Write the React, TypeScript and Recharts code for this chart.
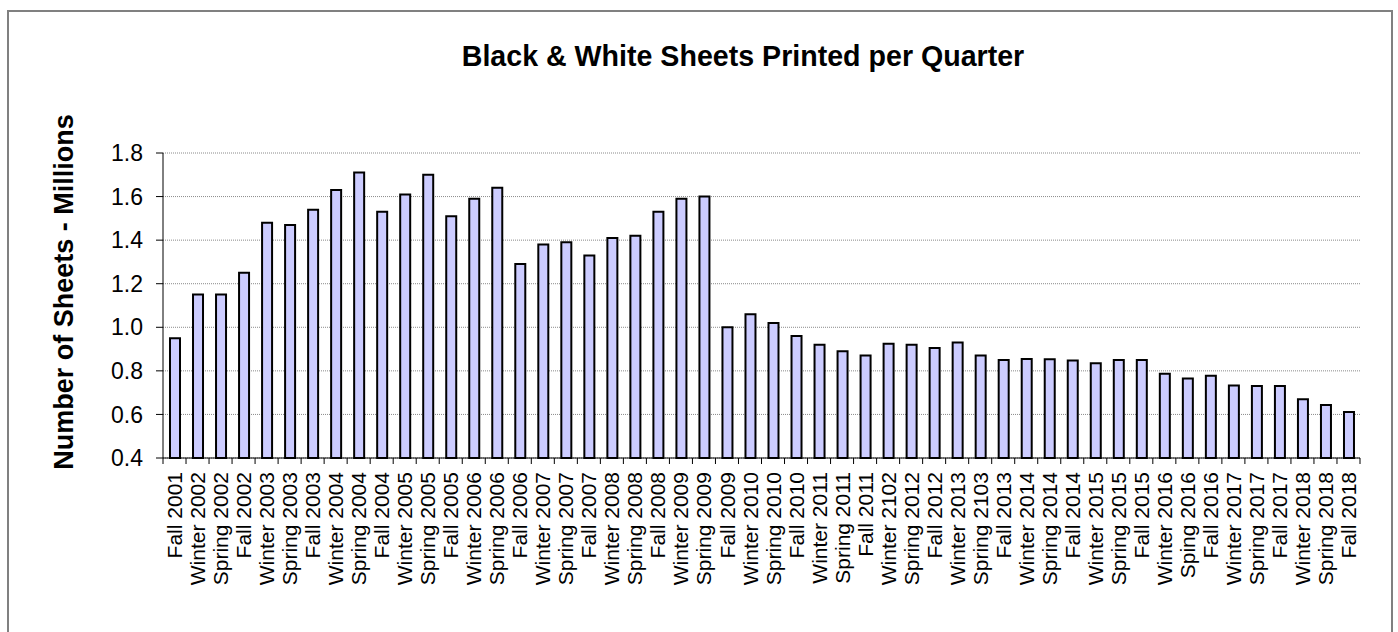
import { Bar, BarChart, CartesianGrid, XAxis, YAxis } from "recharts"

const fontFamily = '"Liberation Sans", Arial, sans-serif'

const quarters = [
  "Fall 2001", "Winter 2002", "Spring 2002", "Fall 2002",
  "Winter 2003", "Spring 2003", "Fall 2003",
  "Winter 2004", "Spring 2004", "Fall 2004",
  "Winter 2005", "Spring 2005", "Fall 2005",
  "Winter 2006", "Spring 2006", "Fall 2006",
  "Winter 2007", "Spring 2007", "Fall 2007",
  "Winter 2008", "Spring 2008", "Fall 2008",
  "Winter 2009", "Spring 2009", "Fall 2009",
  "Winter 2010", "Spring 2010", "Fall 2010",
  "Winter 2011", "Spring 2011", "Fall 2011",
  "Winter 2102", "Spring 2012", "Fall 2012",
  "Winter 2013", "Spring 2103", "Fall 2013",
  "Winter 2014", "Spring 2014", "Fall 2014",
  "Winter 2015", "Spring 2015", "Fall 2015",
  "Winter 2016", "Sping 2016", "Fall 2016",
  "Winter 2017", "Spring 2017", "Fall 2017",
  "Winter 2018", "Spring 2018", "Fall 2018",
]

// millions of sheets
const sheetsMillions = [
  0.95, 1.15, 1.15, 1.25,
  1.48, 1.47, 1.54,
  1.63, 1.71, 1.53,
  1.61, 1.70, 1.51,
  1.59, 1.64, 1.29,
  1.38, 1.39, 1.33,
  1.41, 1.42, 1.53,
  1.59, 1.60, 1.00,
  1.06, 1.02, 0.96,
  0.92, 0.89, 0.87,
  0.925, 0.92, 0.905,
  0.93, 0.87, 0.85,
  0.855, 0.853, 0.847,
  0.835, 0.85, 0.85,
  0.787, 0.765, 0.777,
  0.733, 0.73, 0.73,
  0.67, 0.643, 0.611,
]

const yTicks = [0.4, 0.6, 0.8, 1.0, 1.2, 1.4, 1.6, 1.8]

const data = quarters.map((quarter, i) => ({ quarter, sheets: sheetsMillions[i] }))

function QuarterTick(props: any) {
  const { x, y, payload, index, width, visibleTicksCount } = props
  const half = payload?.offset || width / visibleTicksCount / 2
  return (
    <g>
      {index === 0 && <line x1={x - half} x2={x - half} y1={y} y2={y + 6} stroke="#000" />}
      <line x1={x + half} x2={x + half} y1={y} y2={y + 6} stroke="#000" />
      <text
        x={x}
        y={y + 14}
        dy="0.36em"
        transform={`rotate(-90, ${x}, ${y + 14})`}
        textAnchor="end"
        fill="#000"
        fontSize={21}
        fontFamily={fontFamily}
      >
        {payload.value}
      </text>
    </g>
  )
}

export default function App() {
  return (
    <div style={{ position: "absolute", left: 0, top: 0, width: 1398, height: 632, background: "#fff" }}>
      <div
        style={{
          position: "absolute",
          left: 7,
          top: 10,
          width: 1386,
          height: 622,
          boxSizing: "border-box",
          border: "2px solid #808080",
          borderBottom: "none",
        }}
      />
      <BarChart
        width={1398}
        height={632}
        data={data}
        margin={{ top: 153, right: 38, left: 0, bottom: 0 }}
        barSize={10}
        style={{ position: "absolute", left: 0, top: 0 }}
      >
        <CartesianGrid vertical={false} stroke="#8a8a8a" strokeDasharray="1 1" />
        <XAxis
          dataKey="quarter"
          interval={0}
          height={174}
          axisLine={{ stroke: "#000" }}
          tickLine={false}
          tickSize={0}
          tickMargin={0}
          tick={<QuarterTick />}
        />
        <YAxis
          type="number"
          domain={[0.4, 1.8]}
          ticks={yTicks}
          width={163}
          axisLine={{ stroke: "#000" }}
          tickLine={{ stroke: "#000" }}
          tickSize={7}
          tickMargin={13}
          tickFormatter={(v: number) => v.toFixed(1)}
          tick={{ fill: "#000", fontSize: 23, fontFamily }}
        />
        <Bar dataKey="sheets" fill="#ccccff" stroke="#000" strokeWidth={2} isAnimationActive={false} />
      </BarChart>
      <svg
        width={1398}
        height={632}
        style={{ position: "absolute", left: 0, top: 0, pointerEvents: "none" }}
      >
        <text x={743} y={66} textAnchor="middle" fontSize={28.6} fontWeight="bold" fontFamily={fontFamily} fill="#000">
          Black &amp; White Sheets Printed per Quarter
        </text>
        <text
          x={73}
          y={292}
          transform="rotate(-90, 73, 292)"
          textAnchor="middle"
          fontSize={27}
          fontWeight="bold"
          fontFamily={fontFamily}
          fill="#000"
        >
          Number of Sheets - Millions
        </text>
      </svg>
    </div>
  )
}
